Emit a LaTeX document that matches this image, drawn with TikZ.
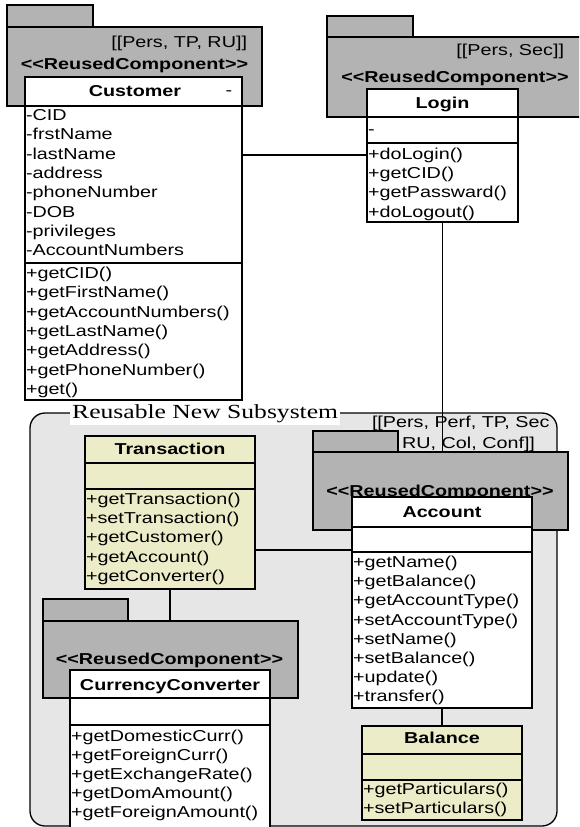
\documentclass[tikz,border=0pt]{standalone}
\usepackage{fontspec}
\setmainfont{Liberation Sans}[FakeStretch=1.25]
\newfontfamily\framefont{Liberation Serif}[FakeStretch=1.28]
\usetikzlibrary{fit}
\definecolor{pkggray}{RGB}{179,179,179}
\definecolor{subgray}{RGB}{230,230,230}
\definecolor{beige}{RGB}{237,236,201}
\newcommand\stereo[1]{<\kern0pt<#1>\kern0pt>}
\tikzset{
  box/.style={draw=black, line width=1.4pt, inner sep=0pt, outer sep=0pt, rectangle},
  pkgbox/.style={box, fill=pkggray},
  classbox/.style={box, fill=white},
  notebox/.style={box, fill=beige},
  sep/.style={draw=black, line width=1.4pt},
  link/.style={draw=black, line width=1.3pt},
  txt/.style={inner sep=0pt, outer sep=0pt, font=\fontsize{15.8}{18}\selectfont},
  btxt/.style={txt, font=\fontsize{15.8}{18}\selectfont\bfseries},
  subsys/.style={draw=black, line width=1.3pt, fill=subgray, rounded corners=15pt, inner sep=0pt, outer sep=0pt},
}
\begin{document}
\begin{tikzpicture}[x=1pt,y=-1pt]
\useasboundingbox (0,0) rectangle (579,827);
\clip (0,0) rectangle (579,827);

% ---- subsystem frame ----
\node[subsys, fit={(30,413) (557,826)}] (subsystem) {};
\node[fill=white, inner xsep=2pt, inner ysep=3pt, anchor=base west,
      font=\framefont\fontsize{20}{24}\selectfont] (subtitle) at (70,418) {Reusable New Subsystem};

% ---- Customer component ----
\node[pkgbox, fit={(7,5) (93,27)}] (cust-tab) {};
\node[pkgbox, fit={(7,27) (262,106)}] (cust-pkg) {};
\node[txt, anchor=base east] (cust-tags) at (247,47) {[[Pers, TP, RU]]};
\node[btxt, anchor=base] (cust-st) at (134.5,69) {\stereo{ReusedComponent}};
\node[classbox, fit={(25,77) (242,400)}] (customer) {};
\draw[sep] (25,106) -- (242,106);
\draw[sep] (25,263) -- (242,263);
\node[btxt, anchor=base] (cust-name) at (135,96.5) {Customer};
\node[txt, anchor=base] (cust-vis) at (229,95) {-};
\foreach \t [count=\i] in {-CID,-frstName,-lastName,-address,-phoneNumber,-DOB,-privileges,-AccountNumbers}
  \node[txt, anchor=base west] (cust-a\i) at (26,{120.5+19.3*(\i-1)}) {\t};
\foreach \t [count=\i] in {+getCID(),+getFirstName(),+getAccountNumbers(),+getLastName(),+getAddress(),+getPhoneNumber(),+get()}
  \node[txt, anchor=base west] (cust-m\i) at (26,{278.5+19.3*(\i-1)}) {\t};

% ---- Login component ----
\node[pkgbox, fit={(327,16) (413,37)}] (login-tab) {};
\node[pkgbox, fit={(327,37) (590,117)}] (login-pkg) {};
\node[txt, anchor=base east] (login-tags) at (564,55) {[[Pers, Sec]]};
\node[btxt, anchor=base] (login-st) at (455,82) {\stereo{ReusedComponent}};
\node[classbox, fit={(367,89) (518,222)}] (login) {};
\draw[sep] (367,117) -- (518,117);
\draw[sep] (367,143) -- (518,143);
\node[btxt, anchor=base] (login-name) at (442.5,108) {Login};
\node[txt, anchor=base west] (login-a1) at (368,134.5) {-};
\foreach \t [count=\i] in {+doLogin(),+getCID(),+getPassward(),+doLogout()}
  \node[txt, anchor=base west] (login-m\i) at (368,{159.5+19.2*(\i-1)}) {\t};

% ---- Account component ----
\node[txt, anchor=base west] (acc-tags1) at (372,427) {[[Pers, Perf, TP, Sec};
\node[txt, anchor=base east] (acc-tags2) at (535,448) {RU, Col, Conf]]};
\node[pkgbox, fit={(313,431) (398,452)}] (acc-tab) {};
\node[pkgbox, fit={(313,452) (568,530)}] (acc-pkg) {};
\node[btxt, anchor=base] (acc-st) at (440,496) {\stereo{ReusedComponent}};
\node[classbox, fit={(352,497) (532,708)}] (account) {};
\draw[sep] (352,527) -- (532,527);
\draw[sep] (352,552) -- (532,552);
\node[btxt, anchor=base] (acc-name) at (442,517) {Account};
\foreach \t [count=\i] in {+getName(),+getBalance(),+getAccountType(),+setAccountType(),+setName(),+setBalance(),+update(),+transfer()}
  \node[txt, anchor=base west] (acc-m\i) at (353,{567.5+19.2*(\i-1)}) {\t};

% ---- Balance ----
\node[notebox, fit={(362,726) (522,820)}] (balance) {};
\draw[sep] (362,754) -- (522,754);
\draw[sep] (362,780) -- (522,780);
\node[btxt, anchor=base] (bal-name) at (442,743.5) {Balance};
\node[txt, anchor=base west] (bal-m1) at (363,794.5) {+getParticulars()};
\node[txt, anchor=base west] (bal-m2) at (363,813.5) {+setParticulars()};

% ---- Transaction ----
\node[notebox, fit={(85,436) (255,589)}] (transaction) {};
\draw[sep] (85,463) -- (255,463);
\draw[sep] (85,489) -- (255,489);
\node[btxt, anchor=base] (tr-name) at (170,454.5) {Transaction};
\foreach \t [count=\i] in {+getTransaction(),+setTransaction(),+getCustomer(),+getAccount(),+getConverter()}
  \node[txt, anchor=base west] (tr-m\i) at (86,{504.5+19.2*(\i-1)}) {\t};

% ---- CurrencyConverter component ----
\node[pkgbox, fit={(43,599) (128,621)}] (cc-tab) {};
\node[pkgbox, fit={(43,621) (298,698)}] (cc-pkg) {};
\node[btxt, anchor=base] (cc-st) at (169.5,664) {\stereo{ReusedComponent}};
\node[classbox, fit={(70,670) (270,840)}] (converter) {};
\draw[sep] (70,698) -- (270,698);
\draw[sep] (70,725) -- (270,725);
\node[btxt, anchor=base] (cc-name) at (170,690.5) {CurrencyConverter};
\foreach \t [count=\i] in {+getDomesticCurr(),+getForeignCurr(),+getExchangeRate(),+getDomAmount(),+getForeignAmount()}
  \node[txt, anchor=base west] (cc-m\i) at (71,{741.5+19.1*(\i-1)}) {\t};

% ---- associations ----
\draw[link] (customer.east |- 0,155) -- (login.west |- 0,155);
\draw[link] (login.south) -- (login.south |- acc-pkg.north);
\draw[link] (transaction.east |- 0,550) -- (account.west |- 0,550);
\draw[link] (transaction.south) -- (transaction.south |- cc-pkg.north);
\draw[link] (account.south) -- (balance.north);
\end{tikzpicture}
\end{document}
